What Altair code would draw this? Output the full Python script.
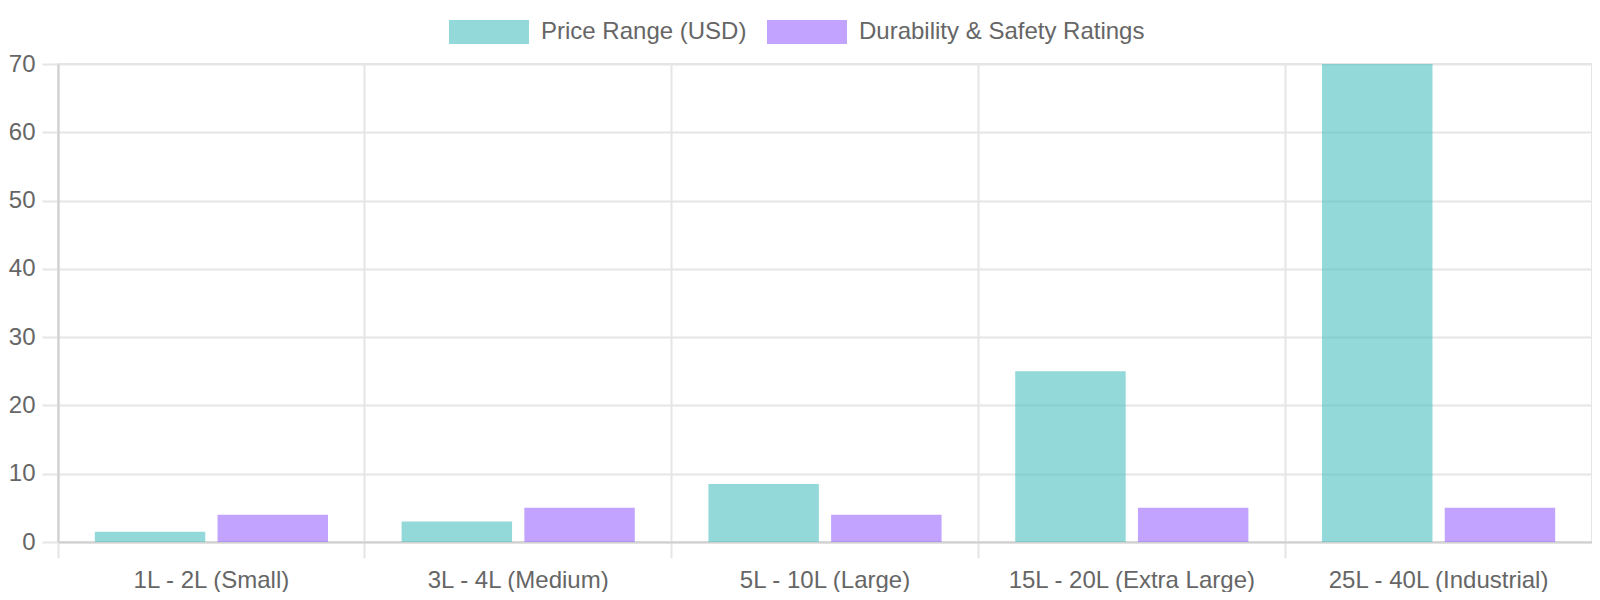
import altair as alt
import pandas as pd

# bin sizes and the two series
sizes = ["1L - 2L (Small)", "3L - 4L (Medium)", "5L - 10L (Large)",
         "15L - 20L (Extra Large)", "25L - 40L (Industrial)"]
price = [1.5, 3, 8.5, 25, 70]
durability = [4, 5, 4, 5, 5]
series = ["Price Range (USD)", "Durability & Safety Ratings"]
colors = ["rgb(75,192,192)", "rgb(153,102,255)"]

df = pd.DataFrame({
    "size": sizes * 2,
    "series": [series[0]] * len(sizes) + [series[1]] * len(sizes),
    "value": price + durability,
})

W = 1534
H = 478
grid = "#e5e5e5"
axis_line = "#d0d0d0"
font = "Liberation Sans"

chart = alt.Chart(df).mark_bar(opacity=0.6).encode(
    x=alt.X("size:N", sort=sizes, title=None,
            scale=alt.Scale(paddingInner=0, paddingOuter=0),
            axis=alt.Axis(bandPosition=0, labelAngle=0,
                          tickSize=16, tickColor=grid, tickWidth=2,
                          grid=True, gridColor=grid, gridWidth=2,
                          domainColor=axis_line, domainWidth=2,
                          labelPadding=10, labelFontSize=24, labelColor="#666",
                          labelFont=font, labelLimit=400)),
    xOffset=alt.XOffset("series:N", sort=series,
                        scale=alt.Scale(paddingInner=0.1, paddingOuter=0.3)),
    y=alt.Y("value:Q", title=None,
            scale=alt.Scale(domain=[0, 70], nice=False),
            axis=alt.Axis(values=list(range(0, 71, 10)), tickSize=16,
                          tickColor=grid, tickWidth=2,
                          gridColor=grid, gridWidth=2,
                          domainColor=axis_line, domainWidth=2,
                          labelPadding=7, labelFontSize=24, labelColor="#666",
                          labelFont=font)),
    color=alt.Color("series:N", sort=series, title=None,
                    scale=alt.Scale(domain=series, range=colors),
                    legend=alt.Legend(orient="none", legendX=419, legendY=-44,
                                      direction="horizontal",
                                      symbolType="M-3.333,-1H3.333V1H-3.333Z",
                                      symbolSize=576, symbolStrokeWidth=0,
                                      symbolOpacity=0.6,
                                      labelFontSize=24, labelColor="#666",
                                      labelFont=font, labelOffset=40,
                                      labelLimit=400, columnPadding=20,
                                      padding=0)),
).properties(
    width=W,
    height=H,
    padding={"left": 0, "top": 12, "right": 0, "bottom": 0},
).configure_view(
    stroke=grid,
    strokeWidth=2,
)

chart.save("out.html", embed_options={"renderer": "svg", "actions": False})
